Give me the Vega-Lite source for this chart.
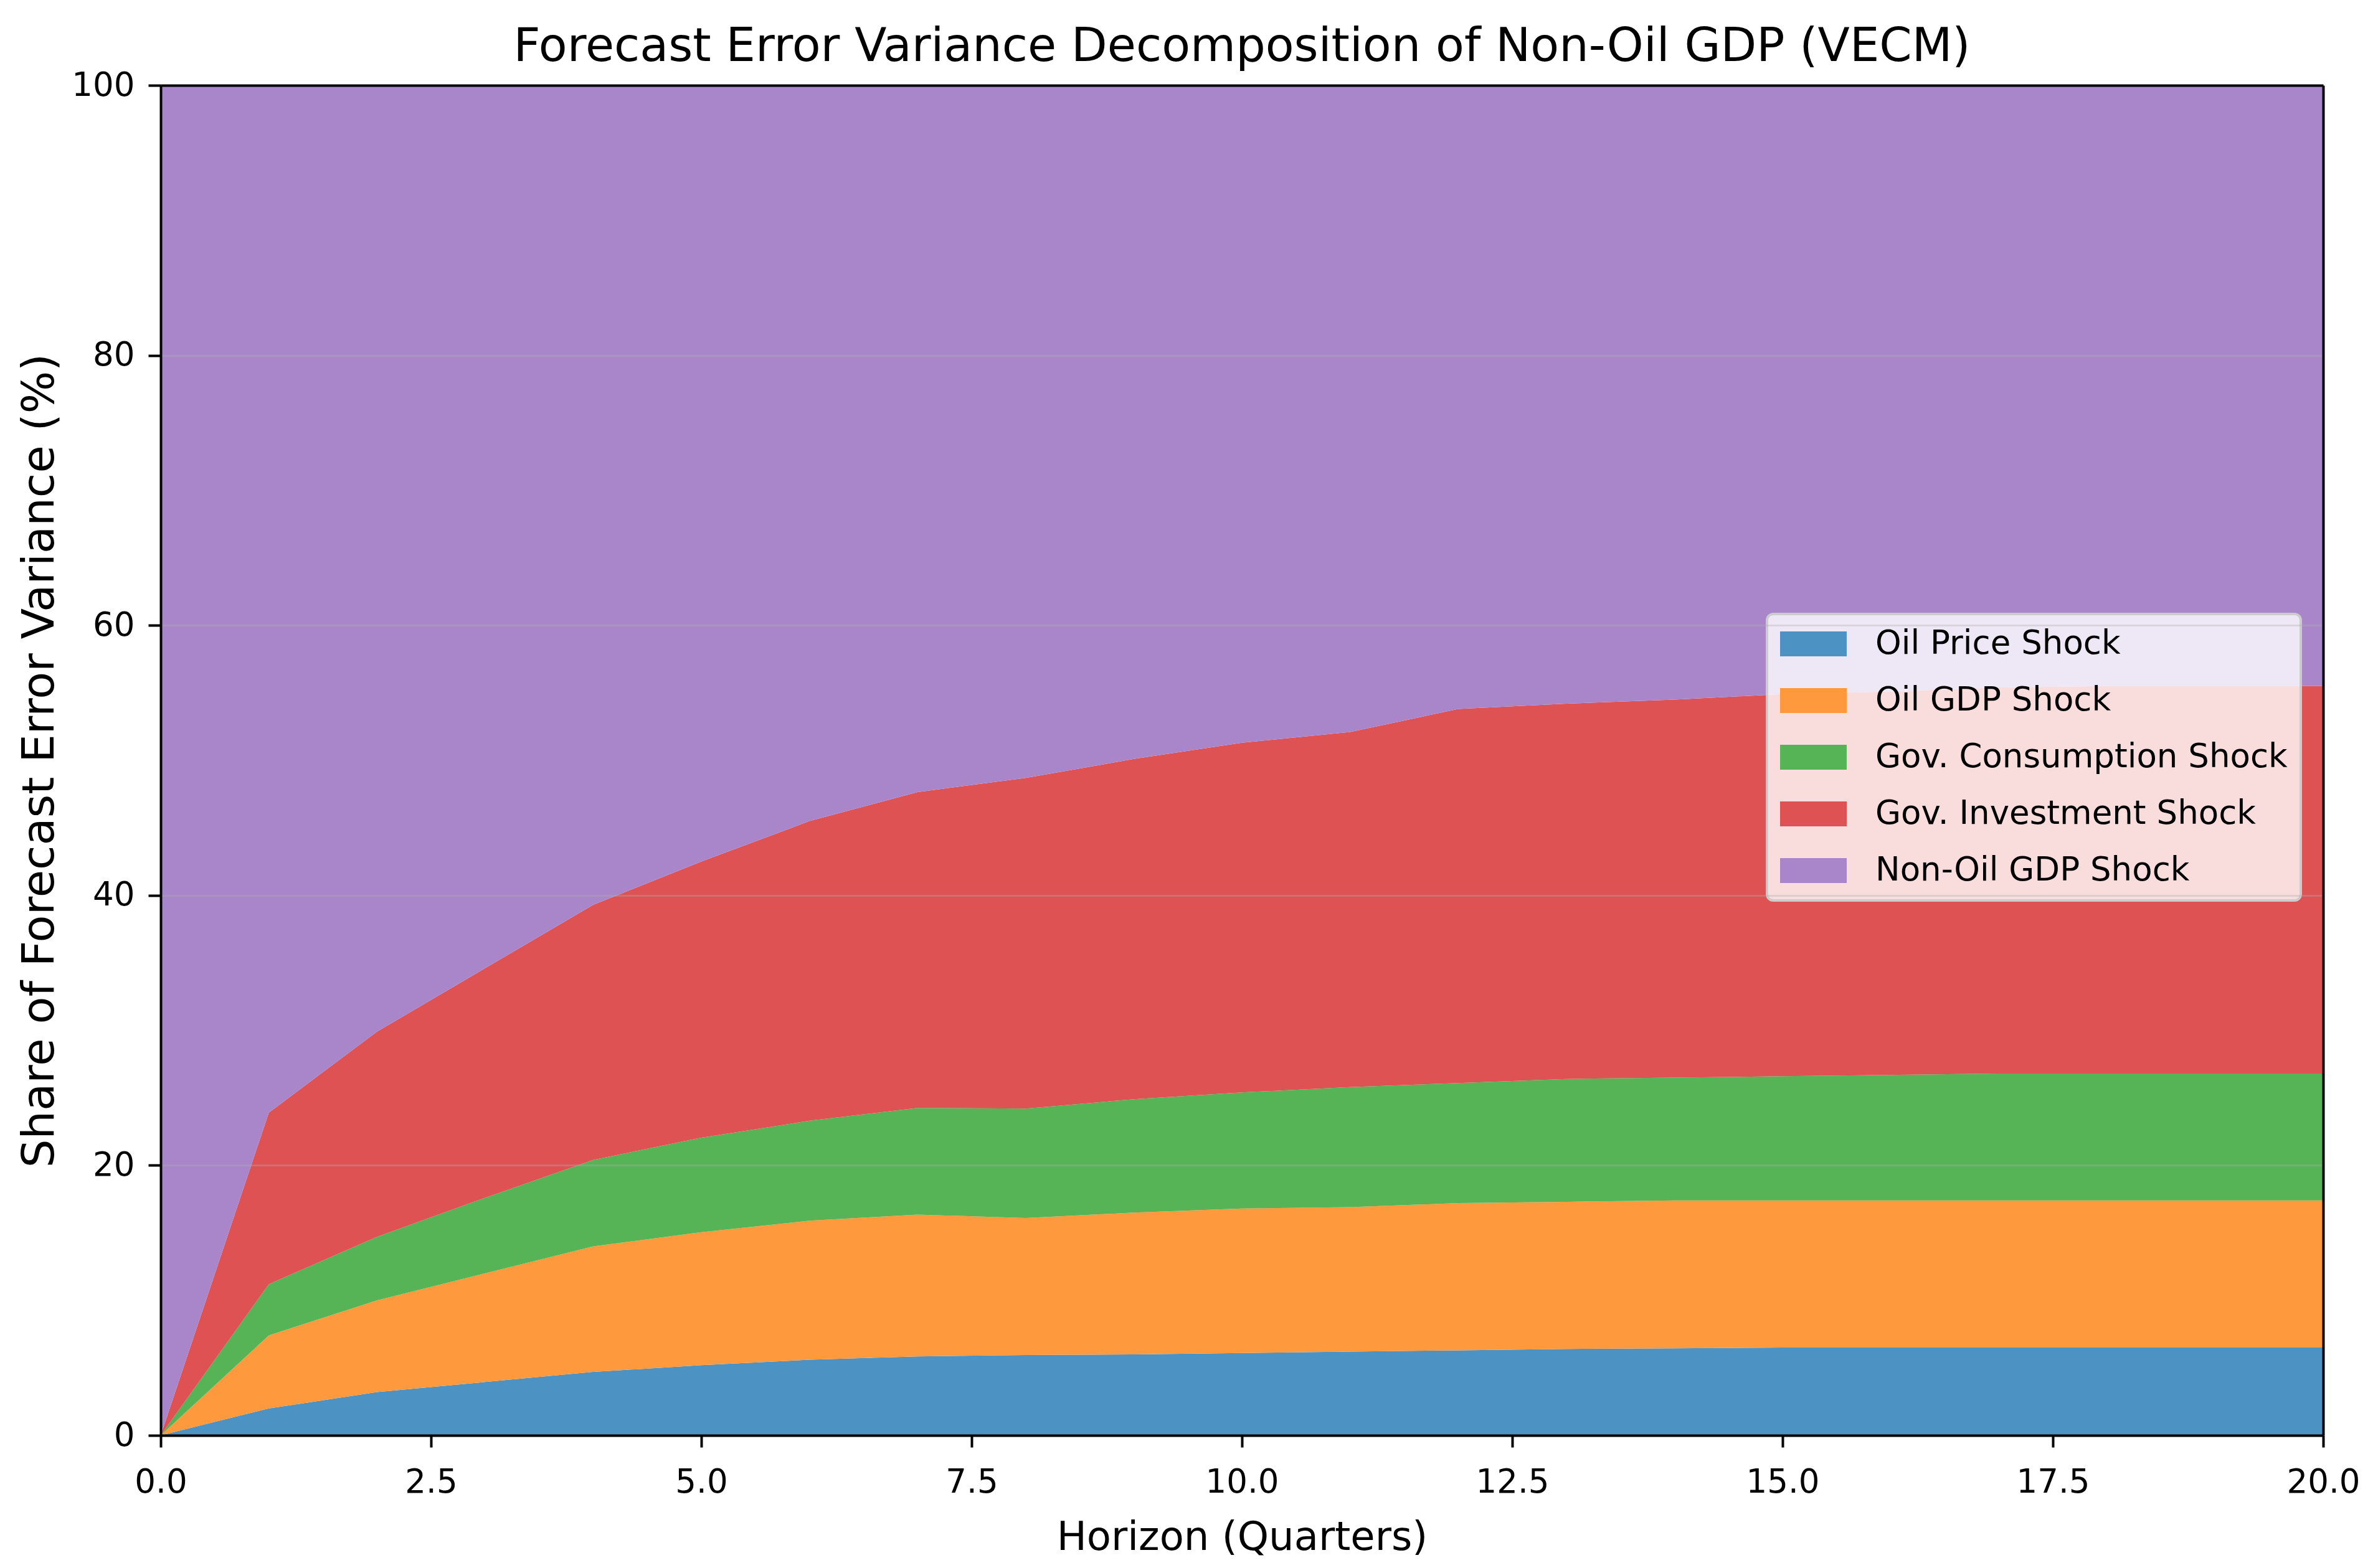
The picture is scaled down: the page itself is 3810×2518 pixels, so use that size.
{
  "$schema": "https://vega.github.io/schema/vega-lite/v6.json",
  "autosize": {"type": "none"},
  "width": 3472,
  "height": 2168,
  "padding": {"left": 258, "top": 137, "right": 80, "bottom": 213},
  "background": "white",
  "title": {
    "text": "Forecast Error Variance Decomposition of Non-Oil GDP (VECM)",
    "fontSize": 75,
    "fontWeight": "normal",
    "color": "black",
    "baseline": "alphabetic",
    "offset": 10,
    "dy": 72
  },
  "config": {
    "font": "DejaVu Sans",
    "view": {"stroke": null},
    "legend": {"strokeWidth": 4}
  },
  "data": {
    "values": [
      {"h":0,"shock":"Oil Price Shock","k":1,"v":0},
      {"h":0,"shock":"Oil GDP Shock","k":2,"v":0},
      {"h":0,"shock":"Gov. Consumption Shock","k":3,"v":0},
      {"h":0,"shock":"Gov. Investment Shock","k":4,"v":0},
      {"h":0,"shock":"Non-Oil GDP Shock","k":5,"v":100},
      {"h":1,"shock":"Oil Price Shock","k":1,"v":2.0},
      {"h":1,"shock":"Oil GDP Shock","k":2,"v":5.4},
      {"h":1,"shock":"Gov. Consumption Shock","k":3,"v":3.8},
      {"h":1,"shock":"Gov. Investment Shock","k":4,"v":12.7},
      {"h":1,"shock":"Non-Oil GDP Shock","k":5,"v":76.1},
      {"h":2,"shock":"Oil Price Shock","k":1,"v":3.2},
      {"h":2,"shock":"Oil GDP Shock","k":2,"v":6.8},
      {"h":2,"shock":"Gov. Consumption Shock","k":3,"v":4.7},
      {"h":2,"shock":"Gov. Investment Shock","k":4,"v":15.2},
      {"h":2,"shock":"Non-Oil GDP Shock","k":5,"v":70.1},
      {"h":3,"shock":"Oil Price Shock","k":1,"v":3.95},
      {"h":3,"shock":"Oil GDP Shock","k":2,"v":8.05},
      {"h":3,"shock":"Gov. Consumption Shock","k":3,"v":5.6},
      {"h":3,"shock":"Gov. Investment Shock","k":4,"v":17.0},
      {"h":3,"shock":"Non-Oil GDP Shock","k":5,"v":65.4},
      {"h":4,"shock":"Oil Price Shock","k":1,"v":4.7},
      {"h":4,"shock":"Oil GDP Shock","k":2,"v":9.3},
      {"h":4,"shock":"Gov. Consumption Shock","k":3,"v":6.4},
      {"h":4,"shock":"Gov. Investment Shock","k":4,"v":18.9},
      {"h":4,"shock":"Non-Oil GDP Shock","k":5,"v":60.7},
      {"h":5,"shock":"Oil Price Shock","k":1,"v":5.2},
      {"h":5,"shock":"Oil GDP Shock","k":2,"v":9.85},
      {"h":5,"shock":"Gov. Consumption Shock","k":3,"v":7.0},
      {"h":5,"shock":"Gov. Investment Shock","k":4,"v":20.45},
      {"h":5,"shock":"Non-Oil GDP Shock","k":5,"v":57.5},
      {"h":6,"shock":"Oil Price Shock","k":1,"v":5.6},
      {"h":6,"shock":"Oil GDP Shock","k":2,"v":10.3},
      {"h":6,"shock":"Gov. Consumption Shock","k":3,"v":7.4},
      {"h":6,"shock":"Gov. Investment Shock","k":4,"v":22.2},
      {"h":6,"shock":"Non-Oil GDP Shock","k":5,"v":54.5},
      {"h":7,"shock":"Oil Price Shock","k":1,"v":5.85},
      {"h":7,"shock":"Oil GDP Shock","k":2,"v":10.5},
      {"h":7,"shock":"Gov. Consumption Shock","k":3,"v":7.9},
      {"h":7,"shock":"Gov. Investment Shock","k":4,"v":23.4},
      {"h":7,"shock":"Non-Oil GDP Shock","k":5,"v":52.35},
      {"h":8,"shock":"Oil Price Shock","k":1,"v":5.95},
      {"h":8,"shock":"Oil GDP Shock","k":2,"v":10.15},
      {"h":8,"shock":"Gov. Consumption Shock","k":3,"v":8.1},
      {"h":8,"shock":"Gov. Investment Shock","k":4,"v":24.5},
      {"h":8,"shock":"Non-Oil GDP Shock","k":5,"v":51.3},
      {"h":9,"shock":"Oil Price Shock","k":1,"v":6.0},
      {"h":9,"shock":"Oil GDP Shock","k":2,"v":10.5},
      {"h":9,"shock":"Gov. Consumption Shock","k":3,"v":8.4},
      {"h":9,"shock":"Gov. Investment Shock","k":4,"v":25.2},
      {"h":9,"shock":"Non-Oil GDP Shock","k":5,"v":49.9},
      {"h":10,"shock":"Oil Price Shock","k":1,"v":6.1},
      {"h":10,"shock":"Oil GDP Shock","k":2,"v":10.7},
      {"h":10,"shock":"Gov. Consumption Shock","k":3,"v":8.6},
      {"h":10,"shock":"Gov. Investment Shock","k":4,"v":25.9},
      {"h":10,"shock":"Non-Oil GDP Shock","k":5,"v":48.7},
      {"h":11,"shock":"Oil Price Shock","k":1,"v":6.2},
      {"h":11,"shock":"Oil GDP Shock","k":2,"v":10.7},
      {"h":11,"shock":"Gov. Consumption Shock","k":3,"v":8.9},
      {"h":11,"shock":"Gov. Investment Shock","k":4,"v":26.3},
      {"h":11,"shock":"Non-Oil GDP Shock","k":5,"v":47.9},
      {"h":12,"shock":"Oil Price Shock","k":1,"v":6.3},
      {"h":12,"shock":"Oil GDP Shock","k":2,"v":10.9},
      {"h":12,"shock":"Gov. Consumption Shock","k":3,"v":8.9},
      {"h":12,"shock":"Gov. Investment Shock","k":4,"v":27.7},
      {"h":12,"shock":"Non-Oil GDP Shock","k":5,"v":46.2},
      {"h":13,"shock":"Oil Price Shock","k":1,"v":6.4},
      {"h":13,"shock":"Oil GDP Shock","k":2,"v":10.9},
      {"h":13,"shock":"Gov. Consumption Shock","k":3,"v":9.1},
      {"h":13,"shock":"Gov. Investment Shock","k":4,"v":27.8},
      {"h":13,"shock":"Non-Oil GDP Shock","k":5,"v":45.8},
      {"h":14,"shock":"Oil Price Shock","k":1,"v":6.45},
      {"h":14,"shock":"Oil GDP Shock","k":2,"v":10.95},
      {"h":14,"shock":"Gov. Consumption Shock","k":3,"v":9.1},
      {"h":14,"shock":"Gov. Investment Shock","k":4,"v":28.0},
      {"h":14,"shock":"Non-Oil GDP Shock","k":5,"v":45.5},
      {"h":15,"shock":"Oil Price Shock","k":1,"v":6.5},
      {"h":15,"shock":"Oil GDP Shock","k":2,"v":10.9},
      {"h":15,"shock":"Gov. Consumption Shock","k":3,"v":9.2},
      {"h":15,"shock":"Gov. Investment Shock","k":4,"v":28.3},
      {"h":15,"shock":"Non-Oil GDP Shock","k":5,"v":45.1},
      {"h":16,"shock":"Oil Price Shock","k":1,"v":6.5},
      {"h":16,"shock":"Oil GDP Shock","k":2,"v":10.9},
      {"h":16,"shock":"Gov. Consumption Shock","k":3,"v":9.3},
      {"h":16,"shock":"Gov. Investment Shock","k":4,"v":28.4},
      {"h":16,"shock":"Non-Oil GDP Shock","k":5,"v":44.9},
      {"h":17,"shock":"Oil Price Shock","k":1,"v":6.5},
      {"h":17,"shock":"Oil GDP Shock","k":2,"v":10.9},
      {"h":17,"shock":"Gov. Consumption Shock","k":3,"v":9.4},
      {"h":17,"shock":"Gov. Investment Shock","k":4,"v":28.6},
      {"h":17,"shock":"Non-Oil GDP Shock","k":5,"v":44.6},
      {"h":18,"shock":"Oil Price Shock","k":1,"v":6.5},
      {"h":18,"shock":"Oil GDP Shock","k":2,"v":10.9},
      {"h":18,"shock":"Gov. Consumption Shock","k":3,"v":9.4},
      {"h":18,"shock":"Gov. Investment Shock","k":4,"v":28.7},
      {"h":18,"shock":"Non-Oil GDP Shock","k":5,"v":44.5},
      {"h":19,"shock":"Oil Price Shock","k":1,"v":6.5},
      {"h":19,"shock":"Oil GDP Shock","k":2,"v":10.9},
      {"h":19,"shock":"Gov. Consumption Shock","k":3,"v":9.4},
      {"h":19,"shock":"Gov. Investment Shock","k":4,"v":28.7},
      {"h":19,"shock":"Non-Oil GDP Shock","k":5,"v":44.5},
      {"h":20,"shock":"Oil Price Shock","k":1,"v":6.5},
      {"h":20,"shock":"Oil GDP Shock","k":2,"v":10.9},
      {"h":20,"shock":"Gov. Consumption Shock","k":3,"v":9.4},
      {"h":20,"shock":"Gov. Investment Shock","k":4,"v":28.7},
      {"h":20,"shock":"Non-Oil GDP Shock","k":5,"v":44.5}
    ]
  },
  "layer": [
    {
      "mark": {"type": "area", "interpolate": "linear", "opacity": 1},
      "encoding": {
        "x": {
          "field": "h", "type": "quantitative",
          "scale": {"domain": [0, 20], "nice": false, "zero": false},
          "axis": {
            "orient": "bottom",
            "title": "Horizon (Quarters)",
            "values": [0, 2.5, 5, 7.5, 10, 12.5, 15, 17.5, 20],
            "format": ".1f",
            "grid": false,
            "zindex": 1,
            "domainColor": "black", "domainWidth": 4,
            "tickColor": "black", "tickWidth": 4, "tickSize": 19,
            "labelFontSize": 53, "labelColor": "black", "labelPadding": 72,
            "labelBaseline": "alphabetic", "labelFlush": false, "labelOverlap": false,
            "titleFontSize": 64, "titleFontWeight": "normal", "titleColor": "black",
            "titleBaseline": "alphabetic", "titleX": 1736, "titleY": 183, "titleAlign": "center"
          }
        },
        "y": {
          "field": "v", "type": "quantitative", "stack": "zero",
          "scale": {"domain": [0, 100], "nice": false},
          "axis": {
            "orient": "left",
            "title": "Share of Forecast Error Variance (%)",
            "values": [0, 20, 40, 60, 80, 100],
            "format": "d",
            "grid": true, "gridColor": "#b0b0b0", "gridOpacity": 0.35, "gridWidth": 3,
            "zindex": 1,
            "domainColor": "black", "domainWidth": 4,
            "tickColor": "black", "tickWidth": 4, "tickSize": 20,
            "labelFontSize": 53, "labelColor": "black", "labelPadding": 22,
            "titleFontSize": 72, "titleFontWeight": "normal", "titleColor": "black",
            "titleAngle": 270, "titleBaseline": "middle", "titleAlign": "center",
            "titleX": -195, "titleY": 1084
          }
        },
        "color": {
          "field": "shock", "type": "nominal",
          "scale": {
            "domain": ["Oil Price Shock", "Oil GDP Shock", "Gov. Consumption Shock", "Gov. Investment Shock", "Non-Oil GDP Shock"],
            "range": ["#4c92c3", "#ff993e", "#56b356", "#de5253", "#a985ca"]
          },
          "legend": {
            "title": null,
            "orient": "none",
            "legendX": 2579,
            "legendY": 849,
            "padding": 21,
            "fillColor": "rgba(255,255,255,0.8)",
            "strokeColor": "#cccccc",
            "cornerRadius": 10,
            "symbolType": "M-1,-0.374L1,-0.374L1,0.374L-1,0.374Z",
            "symbolSize": 11449,
            "symbolStrokeWidth": 0,
            "symbolOpacity": 1,
            "clipHeight": 54,
            "labelFontSize": 53,
            "labelColor": "black",
            "labelOffset": 46,
            "labelLimit": 2000,
            "rowPadding": 37
          }
        },
        "order": {"field": "k", "type": "quantitative"}
      }
    },
    {
      "mark": {"type": "point", "opacity": 0},
      "encoding": {
        "x": {
          "field": "h", "type": "quantitative",
          "scale": {"domain": [0, 20], "nice": false, "zero": false},
          "axis": {"orient": "top", "title": null, "labels": false, "ticks": false, "grid": false, "domainColor": "black", "domainWidth": 4, "zindex": 1}
        },
        "y": {
          "field": "v", "type": "quantitative",
          "scale": {"domain": [0, 100], "nice": false},
          "axis": {"orient": "right", "title": null, "labels": false, "ticks": false, "grid": false, "domainColor": "black", "domainWidth": 4, "zindex": 1}
        }
      }
    }
  ]
}
